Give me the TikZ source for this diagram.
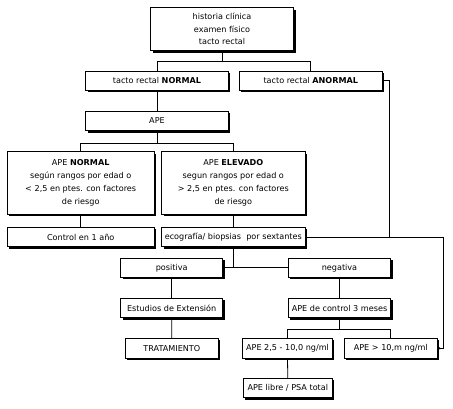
\documentclass[tikz,border=0pt]{standalone}
\usepackage{fontspec}
\setmainfont{DejaVu Sans}
\usetikzlibrary{shadows,arrows.meta}
\tikzset{
  box/.style={draw=black, line width=0.8pt, fill=white, inner sep=0pt, align=center,
    font=\fontsize{8.1}{12.3}\selectfont,
    drop shadow={shadow xshift=2pt, shadow yshift=-2pt, fill=black, opacity=1}},
  link/.style={draw=black, line width=0.8pt},
}
\begin{document}
\begin{tikzpicture}[x=1pt,y=-1pt]
\useasboundingbox (0,0) rectangle (453,408);
\node[box, minimum width=143pt, minimum height=43pt] (top) at (222,29) {historia clínica\\examen físico\\tacto rectal};
\node[box, minimum width=142.6pt, minimum height=19.3pt] (tn) at (157,80.7) {tacto rectal \textbf{NORMAL}};
\node[box, minimum width=143pt, minimum height=19.3pt] (ta) at (310.8,80.7) {tacto rectal \textbf{ANORMAL}};
\node[box, minimum width=142.6pt, minimum height=19.4pt] (ape) at (157,121) {APE};
\node[box, minimum width=146.7pt, minimum height=62.6pt, font=\fontsize{8.1}{13}\selectfont] (apen) at (80.7,183) {APE \textbf{NORMAL}\\según rangos por edad o\\< 2,5 en ptes. con factores\\de riesgo};
\node[box, minimum width=143.3pt, minimum height=62.6pt, font=\fontsize{8.1}{13}\selectfont] (apee) at (233.3,183) {APE \textbf{ELEVADO}\\segun rangos por edad o\\> 2,5 en ptes. con factores\\de riesgo};
\node[box, minimum width=146.7pt, minimum height=19.4pt] (ctrl) at (80.7,237) {Control en 1 año};
\node[box, minimum width=143.3pt, minimum height=19.4pt] (eco) at (233.3,237) {ecografía/ biopsias\ \ por sextantes};
\node[box, minimum width=102pt, minimum height=19pt] (pos) at (171.7,267.8) {positiva};
\node[box, minimum width=102.4pt, minimum height=19pt] (neg) at (339.5,267.8) {negativa};
\node[box, minimum width=102pt, minimum height=19.4pt] (est) at (171.7,308) {Estudios de Extensión};
\node[box, minimum width=93pt, minimum height=20pt] (trat) at (171.8,348.3) {TRATAMIENTO};
\node[box, minimum width=102.4pt, minimum height=19.4pt] (ctl3) at (339.5,308) {APE de control 3 meses};
\node[box, minimum width=89.6pt, minimum height=20pt] (a25) at (287.5,348.3) {APE 2,5 - 10,0 ng/ml};
\node[box, minimum width=93pt, minimum height=20pt] (a10) at (390.8,348.3) {APE > 10,m ng/ml};
\node[box, minimum width=89pt, minimum height=19.4pt] (libre) at (287.8,388) {APE libre / PSA total};
\coordinate (j1) at (222,61);
\coordinate (j2) at (157,143.3);
\coordinate (j3) at (339.5,329.3);
\coordinate (r1) at (389.5,237);
\coordinate (r2) at (443.3,237);
\draw[link] (top.south) -- (top.south |- j1);
\draw[link] (tn.north) |- (ta.north |- j1) -- (ta.north);
\draw[link] (tn.south) -- (ape.north);
\draw[link] (ape.south) -- (j2);
\draw[link] (apen.north) |- (apee.north |- j2) -- (apee.north);
\draw[link] (apen.south) -- (ctrl.north);
\draw[link] (apee.south) -- (eco.north);
\draw[link] (eco.south) -- (eco.south |- pos.east);
\draw[link] (pos.east) -- (neg.west);
\draw[link] (pos.south) -- (est.north);
\draw[link] (est.south) -- (trat.north);
\draw[link] (neg.south) -- (ctl3.north);
\draw[link] (ctl3.south) -- (j3);
\draw[link] (a25.north) |- (a10.north |- j3) -- (a10.north);
\draw[link] (a25.south) -- (libre.north);
\draw[link] (ta.east) -| (r1);
\draw[link, -{Stealth[length=2.5pt,width=2.5pt]}] (eco.east) -- (r2) |- (a10.east);
\end{tikzpicture}
\end{document}
